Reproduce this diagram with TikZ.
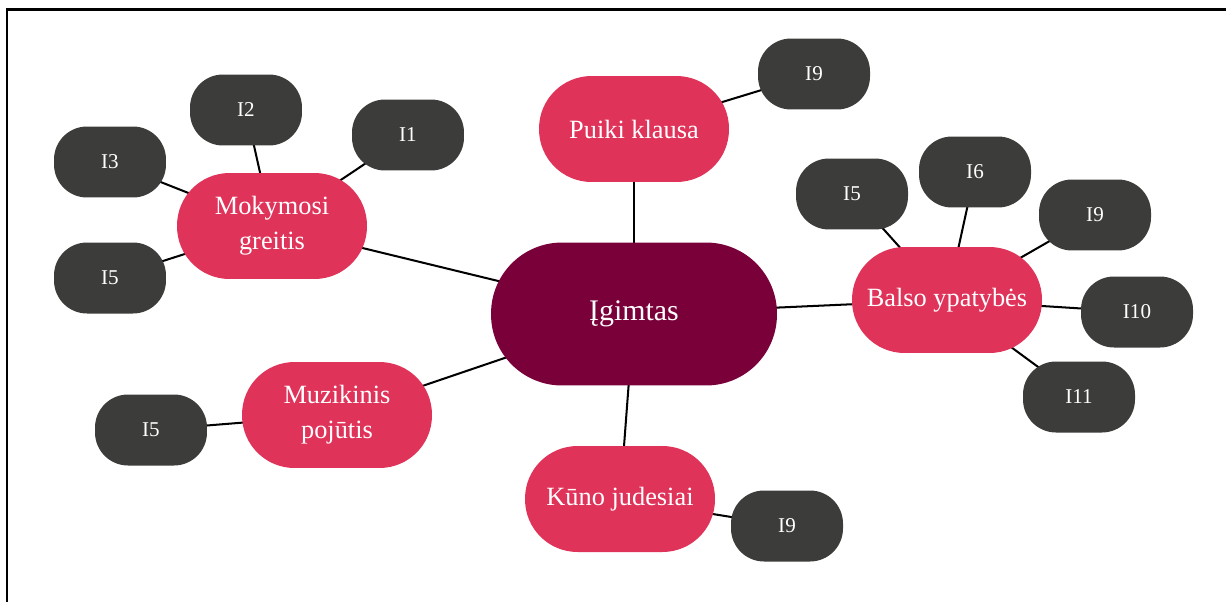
\documentclass[tikz,border=0pt]{standalone}
\usepackage{fontspec}
\setmainfont{Liberation Serif}
\usetikzlibrary{backgrounds}
\definecolor{rootred}{RGB}{122,0,58}
\definecolor{topicpink}{RGB}{224,51,90}
\definecolor{leafgray}{RGB}{60,60,58}
\tikzset{
  root/.style={fill=rootred, text=white, rounded corners=1.42cm,
    minimum width=5.72cm, minimum height=2.86cm, font=\fontsize{17}{20}\selectfont},
  topic/.style={fill=topicpink, text=white, rounded corners=1.05cm, align=center,
    minimum width=3.8cm, minimum height=2.12cm, font=\fontsize{15}{20}\selectfont},
  leaf/.style={fill=leafgray, text=white, rounded corners=0.66cm,
    minimum width=2.24cm, minimum height=1.42cm, font=\fontsize{12}{14}\selectfont},
  link/.style={line width=1.15pt}
}

\begin{document}
\begin{tikzpicture}[x=0.02cm, y=-0.02cm]
  \useasboundingbox (0,0) rectangle (1226,602);
  \draw[line width=1.2pt] (7,602) -- (7,9.5) -- (1226,9.5);

  \node[root] (root) at (634,314) {Įgimtas};
  \node[topic] (puiki) at (634,129) {Puiki klausa};
  \node[topic] (moky) at (272,226) {Mokymosi\\greitis};
  \node[topic] (muz) at (337,415) {Muzikinis\\pojūtis};
  \node[topic] (kuno) at (620,499) {Kūno judesiai};
  \node[topic] (balso) at (947,300) {Balso ypatybės};

  \foreach \name/\x/\y/\txt in {puiki9/814/74/I9, moky2/246/110/I2, moky1/408/135/I1,
      moky3/110/162/I3, moky5/110/278/I5, muz5/151/430/I5, kuno9/787/526/I9,
      balso5/852/194/I5, balso6/975/172/I6, balso9/1095/215/I9,
      balso10/1137/312/I10, balso11/1079/397/I11}
    \node[leaf] (\name) at (\x,\y) {\txt};

  \begin{scope}[on background layer]
    \foreach \a/\b in {root/puiki, root/moky, root/muz, root/kuno, root/balso,
        puiki/puiki9, moky/moky1, moky/moky2, moky/moky3, moky/moky5,
        muz/muz5, kuno/kuno9, balso/balso5, balso/balso6, balso/balso9,
        balso/balso10, balso/balso11}
      \draw[link] (\a.center) -- (\b.center);
  \end{scope}
\end{tikzpicture}
\end{document}
